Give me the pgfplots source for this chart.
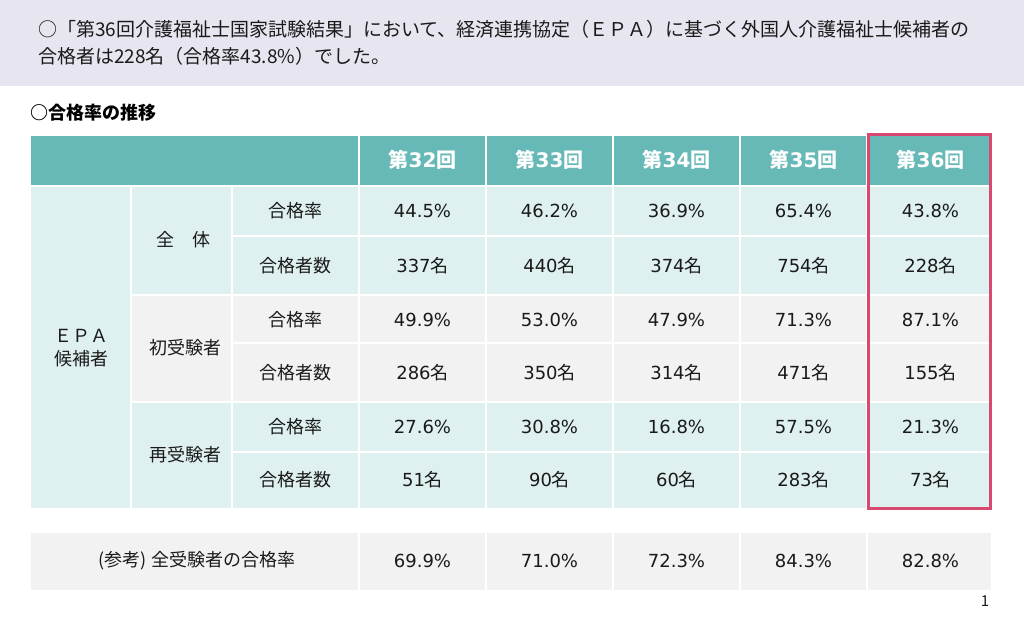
\documentclass[border=0pt]{standalone}
\usepackage{pgfplots}
\pgfplotsset{compat=1.18}
\usepackage{pgfplotstable}
\usepackage{fontspec}
\setmainfont{Noto Sans CJK JP}
\newfontfamily\numfont{DejaVu Sans}
\pgfkeys{/pgf/number format/assume math mode=true}
\definecolor{band}{HTML}{E7E5EF}
\definecolor{headteal}{HTML}{66B9B7}
\definecolor{lteal}{HTML}{DFF0F0}
\definecolor{lgray}{HTML}{F2F2F2}
\definecolor{redbox}{HTML}{D9486E}
\definecolor{txt}{HTML}{1A1A1A}

\pgfplotstableread{
round rateall nall ratefirst nfirst ratere nre ref
32 44.5 337 49.9 286 27.6 51 69.9
33 46.2 440 53.0 350 30.8 90 71.0
34 36.9 374 47.9 314 16.8 60 72.3
35 65.4 754 71.3 471 57.5 283 84.3
36 43.8 228 87.1 155 21.3 73 82.8
}\datatable

\pgfplotsset{
  cell/.style={only marks, mark=*, mark size=0pt, mark options={draw=none,fill=none},
    nodes near coords, point meta=explicit,
    every node near coord/.append style={anchor=center, text=txt, inner sep=0pt,
      font=\fontsize{18}{20}\selectfont}},
  pct/.style={cell, nodes near coords={{\numfont\pgfmathprintnumber[fixed,fixed zerofill,precision=1,assume math mode=true]{\pgfplotspointmeta}\%}}},
  cnt/.style={cell, nodes near coords={{\numfont\pgfmathprintnumber[assume math mode=true]{\pgfplotspointmeta}}名}},
}

\begin{document}
\begin{tikzpicture}
\begin{axis}[
  width=1024pt, height=624pt, scale only axis,
  xmin=0, xmax=1024, ymin=0, ymax=624, y dir=reverse,
  hide axis, clip=false,
  /pgf/number format/assume math mode=true,
]
% background
\fill[white] (0,0) rectangle (1024,624);
\fill[band] (0,0) rectangle (1024,86);
% top text
\node[anchor=west, text=txt, font=\fontsize{19}{22}\selectfont, inner sep=0pt] at (38,29) {○「第36回介護福祉士国家試験結果」において、経済連携協定（ＥＰＡ）に基づく外国人介護福祉士候補者の};
\node[anchor=west, text=txt, font=\fontsize{19}{22}\selectfont, inner sep=0pt] at (38,56) {合格者は228名（合格率43.8\%）でした。};
\node[anchor=west, text=black, font=\fontsize{18}{20}\selectfont\bfseries, inner sep=0pt] at (30,113) {○合格率の推移};

% table fills
\fill[headteal] (31,136) rectangle (991,186);
\fill[lteal] (31,186) rectangle (991,295);
\fill[lteal] (31,295) rectangle (131,508);
\fill[lgray] (131,295) rectangle (991,402);
\fill[lteal] (131,402) rectangle (991,508);
\fill[lgray] (31,533) rectangle (991,590);

% white grid
\draw[white, line width=1.6pt] (359,136) -- (359,508) (486,136) -- (486,508) (613,136) -- (613,508) (740,136) -- (740,508) (867,136) -- (867,508);
\draw[white, line width=1.6pt] (359,533) -- (359,590) (486,533) -- (486,590) (613,533) -- (613,590) (740,533) -- (740,590) (867,533) -- (867,590);
\draw[white, line width=1.6pt] (131,186) -- (131,508) (232,186) -- (232,508);
\draw[white, line width=1.6pt] (31,186) -- (991,186) (232,236) -- (991,236) (131,295) -- (991,295) (232,343) -- (991,343) (131,402) -- (991,402) (232,452) -- (991,452);

% header
\addplot[cell, every node near coord/.append style={text=white, font=\fontsize{20}{22}\selectfont\bfseries},
  nodes near coords={第{\numfont\bfseries\pgfmathprintnumber[assume math mode=true]{\pgfplotspointmeta}}回}]
  table[x expr={(\thisrow{round}-32)*127+422.5}, y expr=160, meta=round] {\datatable};

% body
\addplot[pct] table[x expr={(\thisrow{round}-32)*127+422.5}, y expr=211, meta=rateall] {\datatable};
\addplot[cnt] table[x expr={(\thisrow{round}-32)*127+422.5}, y expr=266, meta=nall] {\datatable};
\addplot[pct] table[x expr={(\thisrow{round}-32)*127+422.5}, y expr=320, meta=ratefirst] {\datatable};
\addplot[cnt] table[x expr={(\thisrow{round}-32)*127+422.5}, y expr=373, meta=nfirst] {\datatable};
\addplot[pct] table[x expr={(\thisrow{round}-32)*127+422.5}, y expr=427, meta=ratere] {\datatable};
\addplot[cnt] table[x expr={(\thisrow{round}-32)*127+422.5}, y expr=480, meta=nre] {\datatable};
\addplot[pct] table[x expr={(\thisrow{round}-32)*127+422.5}, y expr=561, meta=ref] {\datatable};

% row labels
\node[text=txt, font=\fontsize{18}{20}\selectfont, inner sep=0pt] at (295,211) {合格率};
\node[text=txt, font=\fontsize{18}{20}\selectfont, inner sep=0pt] at (295,266) {合格者数};
\node[text=txt, font=\fontsize{18}{20}\selectfont, inner sep=0pt] at (295,320) {合格率};
\node[text=txt, font=\fontsize{18}{20}\selectfont, inner sep=0pt] at (295,373) {合格者数};
\node[text=txt, font=\fontsize{18}{20}\selectfont, inner sep=0pt] at (295,427) {合格率};
\node[text=txt, font=\fontsize{18}{20}\selectfont, inner sep=0pt] at (295,480) {合格者数};
\node[text=txt, font=\fontsize{18}{20}\selectfont, inner sep=0pt] at (183,240) {全　体};
\node[text=txt, font=\fontsize{18}{20}\selectfont, inner sep=0pt] at (185,348) {初受験者};
\node[text=txt, font=\fontsize{18}{20}\selectfont, inner sep=0pt] at (185,455) {再受験者};
\node[text=txt, font=\fontsize{18}{20}\selectfont, inner sep=0pt] at (81,336) {ＥＰＡ};
\node[text=txt, font=\fontsize{18}{20}\selectfont, inner sep=0pt] at (81,359) {候補者};
\node[text=txt, font=\fontsize{18}{20}\selectfont, inner sep=0pt] at (197,561) {(参考) 全受験者の合格率};

% red box
\draw[redbox, line width=3pt] (868,134) rectangle (990,508);

% page number
\node[text=txt, font=\fontsize{15}{16}\selectfont, inner sep=0pt] at (985,601) {1};
\end{axis}
\end{tikzpicture}
\end{document}
